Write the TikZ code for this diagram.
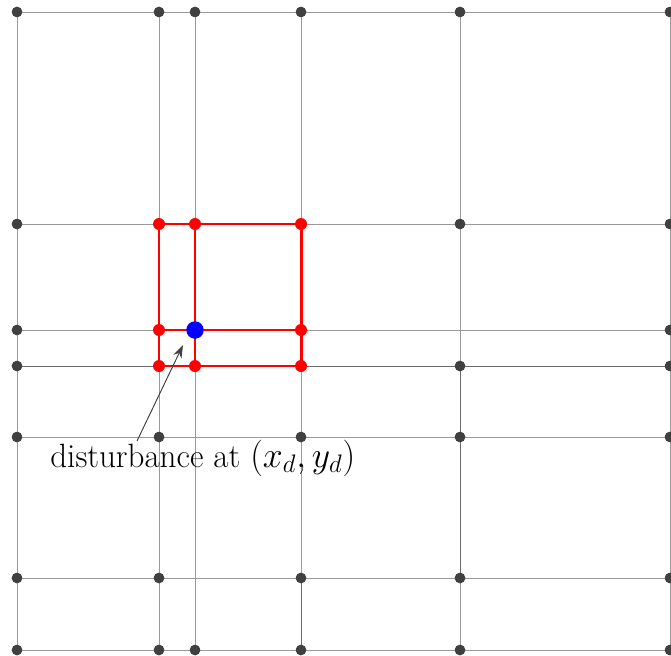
\documentclass[tikz,border=0pt]{standalone}
\usetikzlibrary{arrows.meta}
\begin{document}
\begin{tikzpicture}[x=0.02cm,y=-0.02cm,
  gridline/.style={draw=black!40,line width=0.45pt},
  darkline/.style={draw=black!58,line width=0.55pt},
  redline/.style={draw=red,line width=1.7pt},
  gdot/.style={circle,fill=black!75,inner sep=0pt,minimum size=0.21cm},
  rdot/.style={circle,fill=red,inner sep=0pt,minimum size=0.24cm},
  bdot/.style={circle,fill=blue,inner sep=0pt,minimum size=0.35cm},
  lbl/.style={font=\fontsize{19.2}{23}\selectfont,inner sep=0pt,anchor=base west,xscale=0.98},
  arr/.style={draw=black!75,line width=0.55pt,-{Stealth[length=2.6mm,width=1.8mm]}}]
\useasboundingbox (0,0) rectangle (671,655);
% dots on the border rows/columns (named nodes)
\foreach \cx/\cn in {17/1,159/2,195/3,301/4,460/5,670/6}{
  \node[gdot] (p\cn-1) at (\cx,12) {};
  \node[gdot] (p\cn-7) at (\cx,650) {};
}
\foreach \ry/\rn in {224/2,330/3,366/4,437/5,578/6}{
  \node[gdot] (p1-\rn) at (17,\ry) {};
  \node[gdot] (p6-\rn) at (670,\ry) {};
}
% grid lines
\foreach \n in {1,...,6}{
  \draw[gridline] (p\n-1.center) -- (p\n-7.center);
}
\foreach \n in {1,...,7}{
  \draw[gridline] (p1-\n.center) -- (p6-\n.center);
}
% inner gray dots
\node[gdot] (p5-2) at (460,224) {};
\node[gdot] (p5-4) at (460,366) {};
\node[gdot] (p2-5) at (159,437) {};
\node[gdot] (p4-5) at (301,437) {};
\node[gdot] (p5-5) at (460,437) {};
\node[gdot] (p2-6) at (159,578) {};
\node[gdot] (p4-6) at (301,578) {};
\node[gdot] (p5-6) at (460,578) {};
% darker segments
\draw[darkline] (p5-4.center) -- (p5-5.center) -- (p5-6.center);
\draw[darkline] (p4-6.center) -- (p4-7.center);
\draw[darkline] (p1-4.center) -- (p6-4.center);
% redraw dots on top of lines
\foreach \p in {p1-1,p2-1,p3-1,p4-1,p5-1,p6-1,p1-7,p2-7,p3-7,p4-7,p5-7,p6-7,
  p1-2,p1-3,p1-4,p1-5,p1-6,p6-2,p6-3,p6-4,p6-5,p6-6,
  p5-2,p5-4,p2-5,p4-5,p5-5,p2-6,p4-6,p5-6}{
  \node[gdot] at (\p) {};
}
% red cell
\coordinate (r22) at (159,224); \coordinate (r32) at (195,224); \coordinate (r42) at (301,224);
\coordinate (r23) at (159,330); \coordinate (r43) at (301,330);
\coordinate (r24) at (159,366); \coordinate (r34) at (195,366); \coordinate (r44) at (301,366);
\draw[redline] (r22) -- (r42) -- (r44) -- (r24) -- cycle;
\draw[redline] (r32) -- (r34);
\draw[redline] (r23) -- (r43);
\foreach \c in {r22,r32,r42,r23,r43,r24,r34,r44}{
  \node[rdot] (d\c) at (\c) {};
}
\node[bdot] (dist) at (195,330) {};
% label and arrow
\node[lbl] (txt) at (50,467) {disturbance at $(x_d,y_d)$};
\coordinate (as) at (137,441);
\coordinate (ae) at (183,345);
\draw[arr] (as) -- (ae);
\end{tikzpicture}
\end{document}
